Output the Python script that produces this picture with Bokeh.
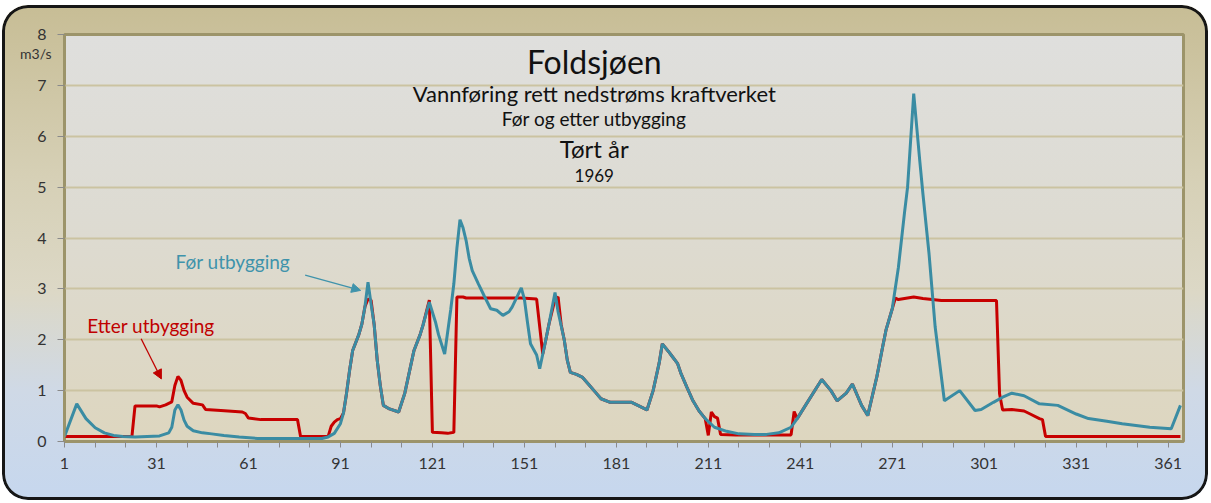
from bokeh.plotting import figure
from bokeh.models import Range1d, FixedTicker, Label, Arrow, NormalHead, ColumnDataSource, LinearAxis
from bokeh.embed import file_html
from bokeh.resources import INLINE

# ---- data ----
for_days = [1, 5, 8, 11, 14, 17, 20, 24, 28, 32, 35, 36, 37, 38, 39, 40, 41, 43, 46, 49, 53, 58, 64,
            85, 87, 89, 91, 92, 93, 94, 95, 97, 98, 99, 100, 101, 102, 103, 104, 105, 107, 110, 112,
            115, 117, 118, 120, 122, 123, 125, 127, 128, 129, 130, 131, 132, 133, 134, 136, 138, 140,
            142, 144, 146, 147, 150, 151, 152, 153, 155, 156, 158, 159, 161, 162, 164, 165, 166, 168,
            170, 172, 174, 176, 179, 186, 188, 191, 193, 195, 196, 198, 199, 201, 202, 204, 206, 208,
            210, 213, 217, 221, 226, 230, 234, 238, 240, 243, 248, 251, 253, 256, 258, 261, 263, 266,
            268, 269, 271, 273, 275, 276, 278, 280, 281, 283, 285, 288, 293, 298, 300, 304, 307, 310,
            314, 319, 325, 331, 335, 341, 346, 355, 362, 365]
for_vals = [0.10, 0.74, 0.45, 0.27, 0.17, 0.12, 0.10, 0.09, 0.10, 0.11, 0.17, 0.28, 0.62, 0.72, 0.62,
            0.42, 0.30, 0.21, 0.17, 0.15, 0.12, 0.09, 0.06,
            0.06, 0.09, 0.16, 0.35, 0.56, 0.95, 1.40, 1.79, 2.10, 2.31, 2.65, 3.13, 2.70, 2.30, 1.60,
            1.10, 0.71, 0.64, 0.58, 0.95,
            1.79, 2.10, 2.30, 2.74, 2.35, 2.10, 1.72, 2.60, 3.10, 3.80, 4.36, 4.20, 3.95, 3.60, 3.36,
            3.10, 2.85, 2.61,
            2.58, 2.48, 2.55, 2.64, 3.02, 2.80, 2.35, 1.92, 1.70, 1.43, 2.00, 2.30, 2.93, 2.55, 2.00,
            1.60, 1.36, 1.32,
            1.26, 1.12, 0.98, 0.84, 0.77, 0.77, 0.71, 0.62, 1.00, 1.55, 1.92, 1.77, 1.69, 1.53, 1.35,
            1.07, 0.80, 0.60,
            0.45, 0.28, 0.20, 0.15, 0.14, 0.14, 0.17, 0.28, 0.45, 0.74, 1.22, 1.00, 0.80, 0.95, 1.13,
            0.71, 0.51, 1.28,
            1.90, 2.20, 2.61, 3.42, 4.50, 5.00, 6.84, 5.50, 4.87, 3.69, 2.25, 0.80, 1.00, 0.61, 0.63,
            0.77, 0.87, 0.95,
            0.90, 0.74, 0.71, 0.54, 0.45, 0.40, 0.35, 0.28, 0.25, 0.71]

etter_days = [1, 23, 24, 31, 32, 34, 36, 37, 38, 39, 40, 41, 43, 46, 47, 52, 59, 60, 61, 65, 77, 78,
              87, 88, 89, 90, 91, 92, 93, 94, 95, 97, 98, 99, 100, 101, 102, 103, 104, 105, 107, 110,
              112, 115, 117, 118, 120, 121, 124, 126, 128, 129, 131, 132, 150, 155, 157, 158, 159, 161,
              162, 163, 164, 165, 166, 168, 170, 172, 174, 176, 179, 186, 188, 191, 193, 195, 196, 198,
              199, 201, 202, 204, 206, 208, 210, 211, 212, 213, 214, 215, 220, 238, 239, 240, 243, 248,
              251, 253, 256, 258, 261, 263, 266, 268, 269, 271, 272, 273, 276, 278, 281, 284, 287, 305,
              306, 307, 310, 314, 316, 319, 320, 321, 365]
etter_vals = [0.10, 0.10, 0.70, 0.70, 0.68, 0.72, 0.78, 1.10, 1.28, 1.20, 1.00, 0.87, 0.75, 0.72, 0.63,
              0.61, 0.58, 0.55, 0.46, 0.43, 0.43, 0.10,
              0.10, 0.30, 0.38, 0.43, 0.45, 0.56, 0.95, 1.40, 1.79, 2.10, 2.31, 2.65, 2.80, 2.78, 2.30,
              1.60, 1.10, 0.71, 0.64, 0.58,
              0.95, 1.79, 2.10, 2.30, 2.78, 0.18, 0.17, 0.16, 0.18, 2.84, 2.84, 2.82, 2.82, 2.80, 1.72,
              2.00, 2.30, 2.80,
              2.84, 2.30, 2.00, 1.60, 1.36, 1.32, 1.26, 1.12, 0.98, 0.84, 0.77, 0.77, 0.71, 0.62, 1.00,
              1.55, 1.92, 1.77,
              1.69, 1.53, 1.35, 1.07, 0.80, 0.60, 0.45, 0.12, 0.58, 0.49, 0.46, 0.14, 0.13, 0.13, 0.59,
              0.45, 0.74, 1.22,
              1.00, 0.80, 0.95, 1.13, 0.71, 0.51, 1.28, 1.90, 2.20, 2.61, 2.82, 2.79, 2.82, 2.84, 2.81,
              2.79, 2.77, 2.77,
              0.94, 0.62, 0.63, 0.60, 0.54, 0.45, 0.43, 0.10, 0.10]

x_ticks = list(range(1, 366, 10))
x_tick_labels = {t: (str(t) if (t - 1) % 30 == 0 else "") for t in x_ticks}
y_ticks = [0, 1, 2, 3, 4, 5, 6, 7, 8]
unit_text = "m3/s"

title_lines = ["Foldsjøen", "Vannføring rett nedstrøms kraftverket", "Før og etter utbygging",
               "Tørt år", "1969"]

FONT = "Lato"
TEAL = "#3a8ca3"
RED = "#c70000"

W, H = 1206, 495
ML, MT, MR, MB = 62, 29, 25, 59
FW, FH = W - ML - MR, H - MT - MB

p = figure(width=W, height=H, output_backend="svg", toolbar_location=None,
           x_range=Range1d(1, 366), y_range=Range1d(0, 8),
           min_border_left=ML, min_border_right=MR, min_border_top=MT, min_border_bottom=MB)

p.styles = {
    "margin": "5px 0 0 2px",
    "background": (f"linear-gradient(180deg, #dfdfdd 0%, #dddbd2 45%, #ddd6bf 100%) {ML}px {MT}px / {FW}px {FH}px no-repeat, "
                   "linear-gradient(180deg, #c7bd95 0%, #d6d0b6 35%, #dcd8c6 58%, #cfd9e6 78%, #c6d7ee 100%)"),
    "border-radius": "26px",
    "box-shadow": "inset 0 0 0 3px #161616",
}
p.border_fill_alpha = 0
p.background_fill_alpha = 0
p.outline_line_color = "#9c946a"
p.outline_line_width = 3

# grid
p.xgrid.visible = False
p.ygrid.grid_line_color = "#cbc3a1"
p.ygrid.grid_line_width = 2
p.ygrid.ticker = FixedTicker(ticks=y_ticks)

# axes
p.xaxis.ticker = FixedTicker(ticks=x_ticks)
p.xaxis.major_label_overrides = x_tick_labels
p.xaxis.minor_tick_line_color = None
p.xaxis.major_tick_in = 0
p.xaxis.major_tick_out = 6
p.xaxis.major_tick_line_color = "#8a8a8a"
p.xaxis.axis_line_color = "#9c946a"
p.xaxis.axis_line_width = 3
p.xaxis.major_label_text_font = FONT
p.xaxis.major_label_text_font_size = "16px"
p.xaxis.major_label_text_color = "#333333"
p.xaxis.major_label_standoff = 10

p.yaxis.ticker = FixedTicker(ticks=y_ticks)
p.yaxis.minor_tick_line_color = None
p.yaxis.major_tick_in = 0
p.yaxis.major_tick_out = 7
p.yaxis.major_tick_line_color = "#8a8a8a"
p.yaxis.axis_line_color = "#9c946a"
p.yaxis.axis_line_width = 2
p.yaxis.major_label_text_font = FONT
p.yaxis.major_label_text_font_size = "16px"
p.yaxis.major_label_text_color = "#333333"
p.yaxis.major_label_standoff = 11

# unit text under the top tick label, as a label-only axis
unit_axis = LinearAxis(ticker=FixedTicker(ticks=[7.62]), major_label_overrides={7.62: unit_text},
                       axis_line_color=None, major_tick_line_color=None, minor_tick_line_color=None,
                       major_label_text_font=FONT, major_label_text_font_size="14px",
                       major_label_text_color="#333333", major_label_standoff=-23,
                       major_label_text_align="center")
p.add_layout(unit_axis, "left")

# series
src_e = ColumnDataSource(dict(x=etter_days, y=etter_vals))
src_f = ColumnDataSource(dict(x=for_days, y=for_vals))
p.line("x", "y", source=src_e, line_color=RED, line_width=3)
p.line("x", "y", source=src_f, line_color=TEAL, line_width=3)

# titles
title_specs = [(7.46, "32px"), (6.85, "22px"), (6.34, "19px"), (5.76, "24px"), (5.22, "17px")]
for txt, (yy, fs) in zip(title_lines, title_specs):
    p.add_layout(Label(x=173.8, y=yy, text=txt, text_align="center", text_baseline="middle",
                       text_font=FONT, text_font_size=fs, text_color="#111111"))

# series annotations
p.add_layout(Label(x=37.2, y=3.54, text="Før utbygging", text_align="left", text_baseline="middle",
                   text_font=FONT, text_font_size="19px", text_color="#3f93ab"))
p.add_layout(Arrow(x_start=79.5, y_start=3.27, x_end=97.6, y_end=2.97, line_color="#3f93ab",
                   line_width=1.3, end=NormalHead(size=9, line_color="#3f93ab", fill_color="#3f93ab")))
p.add_layout(Label(x=8.4, y=2.28, text="Etter utbygging", text_align="left", text_baseline="middle",
                   text_font=FONT, text_font_size="19px", text_color="#c00000"))
p.add_layout(Arrow(x_start=26.0, y_start=2.02, x_end=32.6, y_end=1.23, line_color="#c00000",
                   line_width=1.3, end=NormalHead(size=9, line_color="#c00000", fill_color="#c00000")))

open("out.html", "w").write(file_html(p, INLINE))
